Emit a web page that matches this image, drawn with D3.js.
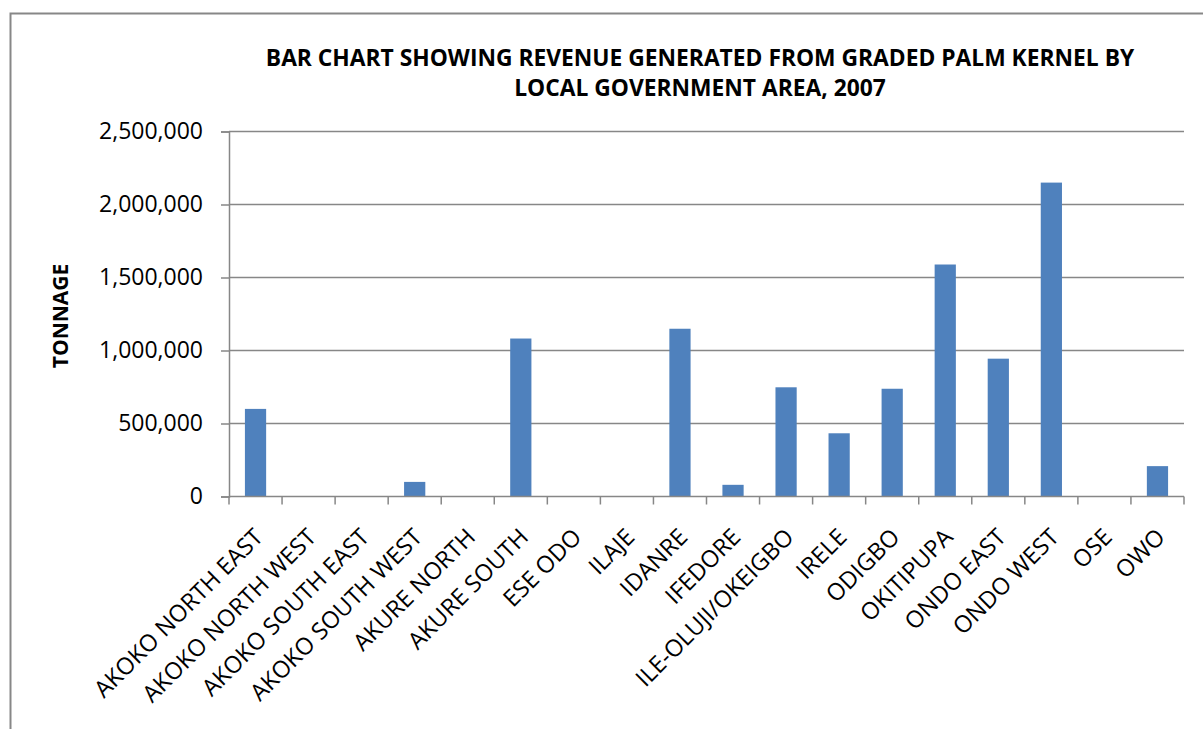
<!DOCTYPE html>
<head>
    <script src="https://d3js.org/d3.v7.min.js"></script>
    <style>
        body { margin: 0; background: #fff; }
        text { font-family: "Open Sans", sans-serif; fill: #000; }
    </style>
</head>
<body>
    <svg></svg>
</body>

<script>
    // Data
    var areas = ["AKOKO NORTH EAST", "AKOKO NORTH WEST", "AKOKO SOUTH EAST", "AKOKO SOUTH WEST",
        "AKURE NORTH", "AKURE SOUTH", "ESE ODO", "ILAJE", "IDANRE", "IFEDORE", "ILE-OLUJI/OKEIGBO",
        "IRELE", "ODIGBO", "OKITIPUPA", "ONDO EAST", "ONDO WEST", "OSE", "OWO"];
    var tonnage = [600000, 0, 0, 100000, 0, 1082000, 0, 0, 1149000, 80000, 748000,
        433000, 738000, 1589000, 944000, 2150000, 0, 208000];
    var yTicks = [0, 500000, 1000000, 1500000, 2000000, 2500000];
    var titleLines = ["BAR CHART SHOWING REVENUE GENERATED FROM GRADED PALM KERNEL BY",
        "LOCAL GOVERNMENT AREA, 2007"];

    // Variables
    var width = 1203;
    var height = 729;
    var plotLeft = 229, plotRight = 1184, plotTop = 131.5, plotBottom = 496.5;
    var gray = '#878787';

    var svg = d3.select('svg')
        .attr('width', width)
        .attr('height', height);

    // Outer frame
    svg.append('rect')
        .attr('x', 10.5).attr('y', 13.5)
        .attr('width', 1200).attr('height', 730)
        .attr('fill', 'none')
        .attr('stroke', gray)
        .attr('stroke-width', 2);

    // Scales
    var x = d3.scaleBand()
        .domain(areas)
        .range([plotLeft, plotRight])
        .padding(0);
    var y = d3.scaleLinear()
        .domain([0, 2500000])
        .range([plotBottom, plotTop]);

    // Gridlines
    svg.append('g')
        .selectAll('line')
        .data(yTicks.slice(1))
        .enter().append('line')
        .attr('x1', plotLeft).attr('x2', plotRight)
        .attr('y1', function (d) { return y(d); })
        .attr('y2', function (d) { return y(d); })
        .attr('stroke', gray)
        .attr('stroke-width', 1.5);

    // Y axis
    var yAxis = svg.append('g')
        .attr('transform', 'translate(' + plotLeft + ',0)')
        .call(d3.axisLeft(y).tickValues(yTicks).tickSize(8).tickPadding(18).tickFormat(d3.format(',')));
    yAxis.selectAll('path, line').attr('stroke', gray).attr('stroke-width', 1.5);
    yAxis.selectAll('text').style('font-size', '23px').style('font-family', '"Open Sans", sans-serif').attr('fill', '#000');

    // Bars
    var barW = x.bandwidth() * 0.4;
    svg.append('g')
        .selectAll('rect')
        .data(areas)
        .enter().append('rect')
        .attr('x', function (d) { return x(d) + (x.bandwidth() - barW) / 2; })
        .attr('y', function (d, i) { return y(tonnage[i]); })
        .attr('width', barW)
        .attr('height', function (d, i) { return y(0) - y(tonnage[i]); })
        .attr('fill', '#4F81BD');

    // X axis (ticks between categories)
    var xAxis = svg.append('g')
        .attr('transform', 'translate(0,' + plotBottom + ')');
    xAxis.append('line')
        .attr('x1', plotLeft).attr('x2', plotRight)
        .attr('stroke', gray).attr('stroke-width', 1.5);
    xAxis.selectAll('line.tick')
        .data(d3.range(areas.length + 1))
        .enter().append('line')
        .attr('class', 'tick')
        .attr('x1', function (i) { return plotLeft + i * x.step(); })
        .attr('x2', function (i) { return plotLeft + i * x.step(); })
        .attr('y1', 0).attr('y2', 8)
        .attr('stroke', gray).attr('stroke-width', 1.5);
    xAxis.selectAll('text')
        .data(areas)
        .enter().append('text')
        .attr('transform', function (d) {
            return 'translate(' + (x(d) + x.bandwidth() / 2 + 9) + ',42) rotate(-45)';
        })
        .attr('text-anchor', 'end')
        .style('font-size', '23.5px')
        .text(function (d) { return d; });

    // Title
    svg.append('text')
        .attr('text-anchor', 'middle')
        .style('font-size', '22.8px')
        .style('font-weight', 'bold')
        .selectAll('tspan')
        .data(titleLines)
        .enter().append('tspan')
        .attr('x', 700)
        .attr('y', function (d, i) { return 66 + i * 30; })
        .text(function (d) { return d; });

    // Y axis label
    svg.append('text')
        .attr('transform', 'translate(68,316) rotate(-90)')
        .attr('text-anchor', 'middle')
        .style('font-size', '21px')
        .style('font-weight', 'bold')
        .text('TONNAGE');
</script>
